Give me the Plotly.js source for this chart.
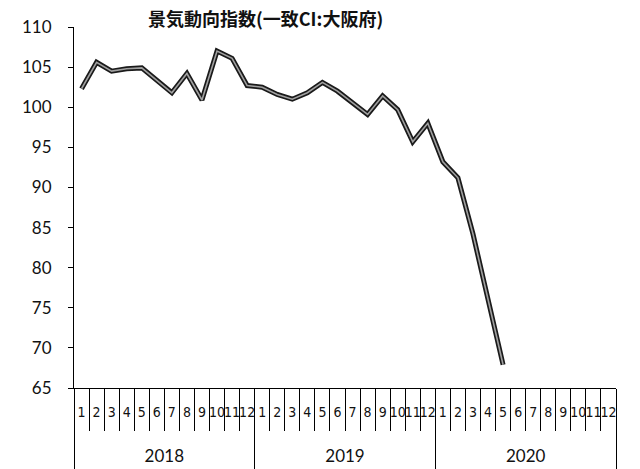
<!DOCTYPE html>
<html>
<head>
<meta charset="utf-8">
<script src="https://cdn.plot.ly/plotly-3.0.1.min.js"></script>
<style>html,body{margin:0;padding:0;background:#fff;}#chart{width:640px;height:469px;}</style>
</head>
<body>
<div id="chart"></div>
<script>
// Data
const years = ['2018', '2019', '2020'];
const months = ['1','2','3','4','5','6','7','8','9','10','11','12'];
const ci = [
  102.3, 105.6, 104.5, 104.8, 104.9, 103.4, 101.8, 104.2, 100.9, 107.0, 106.1, 102.7,
  102.5, 101.6, 101.0, 101.8, 103.1, 102.0, 100.6, 99.1, 101.4, 99.7, 95.7, 98.0,
  93.2, 91.2, 84.2, 75.9, 67.9
];
const yTicks = [65, 70, 75, 80, 85, 90, 95, 100, 105, 110];

// category keys (year/month) and their month labels
const cats = [], catText = [], yVals = [];
const yearCenters = [], yearBounds = [0];
years.forEach((y, yi) => {
  months.forEach(m => {
    yVals.push(cats.length < ci.length ? ci[cats.length] : null);
    cats.push(y + '/' + m);
    catText.push(m);
  });
  yearCenters.push(yi * months.length + months.length / 2);
  yearBounds.push((yi + 1) * months.length);
});

const traces = [
  {x: cats, y: yVals, type: 'scatter', mode: 'lines',
   line: {color: '#1a1a1a', width: 5}, hoverinfo: 'skip', showlegend: false},
  {x: cats, y: yVals, type: 'scatter', mode: 'lines',
   line: {color: '#a0a0a0', width: 1.6}, showlegend: false},
  // carrier for the year axis (no visible marks)
  {x: yearCenters, y: yearCenters.map(() => null), xaxis: 'x2', type: 'scatter', mode: 'none',
   hoverinfo: 'skip', showlegend: false}
];

const layout = {
  width: 640, height: 469,
  margin: {l: 74, r: 24, t: 27, b: 81},
  paper_bgcolor: '#fff', plot_bgcolor: '#fff',
  title: {
    text: '景気動向指数(一致CI:大阪府)',
    font: {family: '"Noto Sans CJK JP", sans-serif', size: 18, color: '#111', weight: 'bold'},
    x: 0.415, xref: 'container', xanchor: 'center',
    y: 0.957, yref: 'container', yanchor: 'middle'
  },
  xaxis: {
    type: 'category', categoryorder: 'array', categoryarray: cats,
    range: [-0.5, cats.length - 0.5],
    tickmode: 'array', tickvals: cats, ticktext: catText, tickangle: 0,
    showline: true, linecolor: '#000', linewidth: 1,
    ticks: 'outside', tickson: 'boundaries', ticklen: 42, tickcolor: '#000', tickwidth: 1,
    ticklabelstandoff: 11,
    tickfont: {family: '"Liberation Sans Narrow", "DejaVu Sans Condensed", sans-serif', size: 14, color: '#111'},
    showgrid: false, zeroline: false
  },
  xaxis2: {
    overlaying: 'x', anchor: 'y', side: 'bottom',
    type: 'linear', range: [0, cats.length],
    tickmode: 'array', tickvals: yearCenters, ticktext: years, ticks: '',
    ticklabelstandoff: 56,
    minor: {tickmode: 'array', tickvals: yearBounds, ticks: 'outside', ticklen: 81, tickcolor: '#000', tickwidth: 1, showgrid: false},
    showline: false, showgrid: false, zeroline: false,
    tickfont: {family: 'Lato, sans-serif', size: 17, color: '#111'}
  },
  yaxis: {
    range: [65, 110],
    tickvals: yTicks,
    ticks: 'outside', ticklen: 5, tickcolor: '#000',
    ticklabelstandoff: 13,
    showline: true, linecolor: '#000', linewidth: 1,
    showgrid: false, zeroline: false,
    tickfont: {family: 'Lato, sans-serif', size: 17, color: '#111'}
  }
};

Plotly.newPlot('chart', traces, layout, {displayModeBar: false, staticPlot: true});
</script>
</body>
</html>
